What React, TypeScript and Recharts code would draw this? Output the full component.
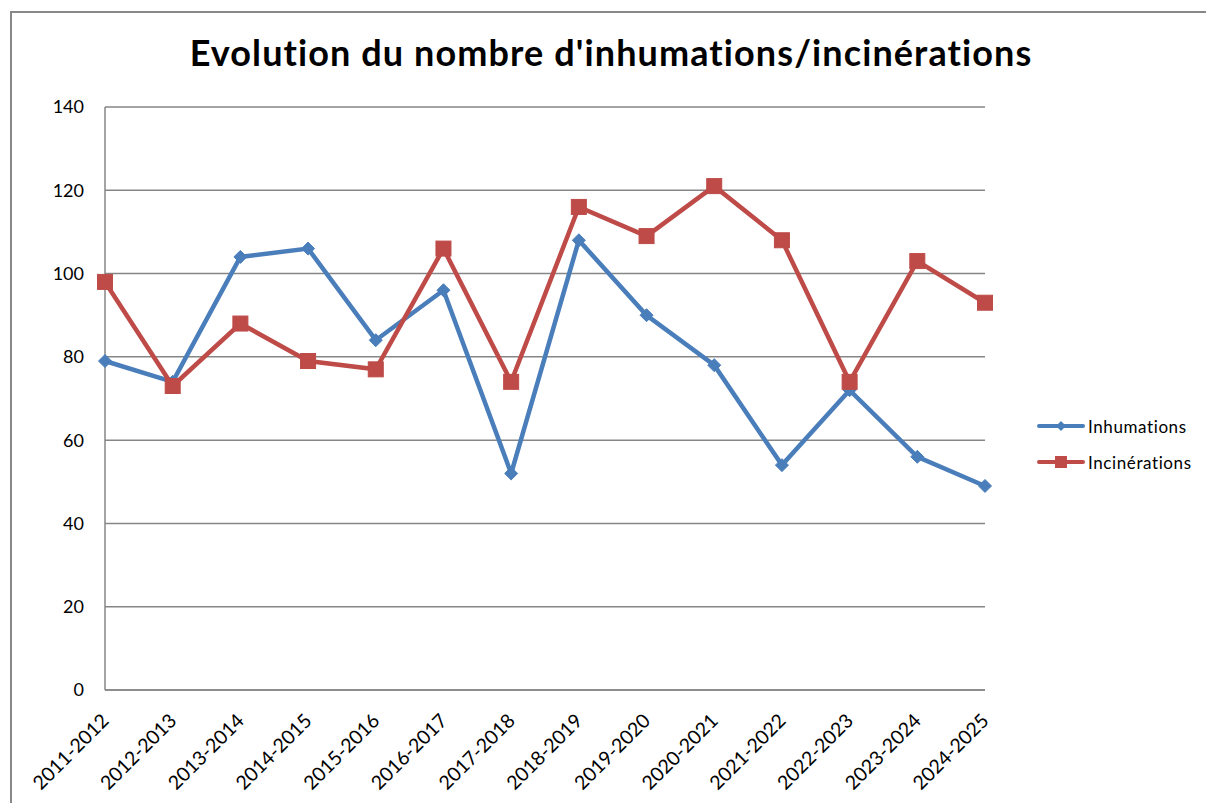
import React from 'react';
import { LineChart, Line, XAxis, YAxis, CartesianGrid } from 'recharts';

const categories = ['2011-2012','2012-2013','2013-2014','2014-2015','2015-2016','2016-2017','2017-2018','2018-2019','2019-2020','2020-2021','2021-2022','2022-2023','2023-2024','2024-2025'];
const inhumations = [79, 74, 104, 106, 84, 96, 52, 108, 90, 78, 54, 72, 56, 49];
const incinerations = [98, 73, 88, 79, 77, 106, 74, 116, 109, 121, 108, 74, 103, 93];
const yTicks = [0, 20, 40, 60, 80, 100, 120, 140];
const seriesNames = ['Inhumations', 'Incinérations'];

const data = categories.map((c, i) => ({ name: c, Inhumations: inhumations[i], 'Incinérations': incinerations[i] }));

const BLUE = '#4A7EBB';
const RED = '#BE4B48';
const GRID = '#868686';
const FONT = 'Lato, "Noto Sans", sans-serif';

const XTick = (props: any) => {
  const { x, y, payload } = props;
  const ax = x + 5;
  const ay = y + 24;
  return (
    <text x={ax} y={ay} transform={`rotate(-45, ${ax}, ${ay})`} textAnchor="end" fontSize={19.5} fill="#000" fontFamily={FONT} style={{ fontVariantLigatures: 'none' }}>
      {payload.value}
    </text>
  );
};

const Diamond = (props: any) => {
  const { cx, cy } = props;
  if (cx == null || cy == null) return null;
  const r = 6.5;
  return <path d={`M${cx},${cy - r}L${cx + r},${cy}L${cx},${cy + r}L${cx - r},${cy}Z`} fill={BLUE} stroke={BLUE} />;
};

const Square = (props: any) => {
  const { cx, cy } = props;
  if (cx == null || cy == null) return null;
  const s = 15;
  return <rect x={cx - s / 2} y={cy - s / 2} width={s} height={s} fill={RED} stroke={RED} />;
};

const LegendBox = () => (
  <div style={{ position: 'absolute', left: 1036, top: 408, fontFamily: FONT, fontSize: 17, letterSpacing: 0.6, color: '#000', fontVariantLigatures: 'none' }}>
    {seriesNames.map((n, i) => {
      const c = i === 0 ? BLUE : RED;
      return (
        <div key={n} style={{ display: 'flex', alignItems: 'center', height: 36 }}>
          <svg width={50} height={16}>
            <line x1={3} y1={8} x2={47} y2={8} stroke={c} strokeWidth={4} strokeLinecap="round" />
            {i === 0 ? (
              <path d="M25,3L30,8L25,13L20,8Z" fill={c} />
            ) : (
              <rect x={19} y={2} width={12} height={12} fill={c} />
            )}
          </svg>
          <span style={{ marginLeft: 2 }}>{n}</span>
        </div>
      );
    })}
  </div>
);

export default function App() {
  return (
    <div style={{ position: 'absolute', left: 0, top: 0, width: 1206, height: 803, background: '#fff', overflow: 'hidden' }}>
      <div style={{ position: 'absolute', left: 10, top: 11, width: 1300, height: 900, border: '2px solid #888', boxSizing: 'border-box' }} />
      <div style={{ position: 'absolute', left: 0, top: 30, width: 1222, textAlign: 'center', fontFamily: FONT, fontWeight: 700, fontSize: 36, letterSpacing: 1.1, color: '#000', fontVariantLigatures: 'none' }}>
        Evolution du nombre d'inhumations/incinérations
      </div>
      <div style={{ position: 'absolute', left: 0, top: 0 }}>
        <LineChart width={1206} height={803} data={data} margin={{ top: 107, right: 221, bottom: 13, left: 45 }}>
          <CartesianGrid vertical={false} stroke={GRID} strokeWidth={1.5} />
          <XAxis dataKey="name" interval={0} tick={<XTick />} tickLine={false} axisLine={{ stroke: GRID, strokeWidth: 1.5 }} height={100} />
          <YAxis domain={[0, 140]} ticks={yTicks} width={60} tickLine={false} tickSize={0} tickMargin={21} axisLine={{ stroke: GRID, strokeWidth: 1.5 }} tick={{ fontSize: 18, fill: '#000', fontFamily: FONT }} />
          <Line type="linear" dataKey="Inhumations" stroke={BLUE} strokeWidth={4.5} dot={<Diamond />} activeDot={false} isAnimationActive={false} />
          <Line type="linear" dataKey="Incinérations" stroke={RED} strokeWidth={4.5} dot={<Square />} activeDot={false} isAnimationActive={false} />
        </LineChart>
      </div>
      <LegendBox />
    </div>
  );
}
